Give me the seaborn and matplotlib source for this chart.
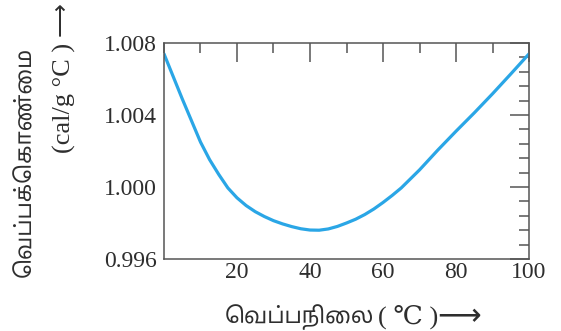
import pandas as pd
import matplotlib.pyplot as plt
import seaborn as sns
from matplotlib.ticker import MultipleLocator

# values
temperature = [0, 2.5, 5, 7.5, 10, 12.5, 15, 17.5, 20, 22.5, 25, 27.5, 30,
               32.5, 35, 37.5, 40, 42.5, 45, 47.5, 50, 52.5, 55, 57.5, 60,
               62.5, 65, 70, 75, 80, 85, 90, 95, 100]
specific_heat = [1.0074, 1.00615, 1.0049, 1.0037, 1.0025, 1.00152, 1.0007, 0.99995,
                 0.9994, 0.99897, 0.99863, 0.99836, 0.99813, 0.99795, 0.99780,
                 0.99768, 0.99761, 0.99760, 0.99767, 0.99781, 0.99800, 0.99821,
                 0.99847, 0.99878, 0.99914, 0.99953, 0.99995, 1.00095, 1.00205,
                 1.00310, 1.00412, 1.00518, 1.00628, 1.00740]
x_ticks = [20, 40, 60, 80, 100]
y_ticks = [0.996, 1.000, 1.004, 1.008]
xlabel_ta = 'வெப்பநிலை'
ylabel_ta = 'வெப்பக்கொண்மை'
ylabel_unit = '(cal/g \u00b0C )'
xlabel_unit = '( \u2103 )'

df = pd.DataFrame({'temp': temperature, 'c': specific_heat})


def visual_order(s):
    # matplotlib has no text shaping: put Tamil pre-base vowel signs
    # in front of their consonant so the word reads right
    s = s.replace('\u0BCA', '\u0BC6\u0BBE').replace('\u0BCB', '\u0BC7\u0BBE')
    s = s.replace('\u0BCC', '\u0BC6\u0BD7')
    out = list(s)
    for i in range(1, len(out)):
        if out[i] in '\u0BC6\u0BC7\u0BC8':
            out[i - 1], out[i] = out[i], out[i - 1]
    return ''.join(out)


sns.set_style("white")
plt.rcParams['font.family'] = ['Liberation Serif', 'DejaVu Serif']
tfam = ['Noto Sans Tamil', 'DejaVu Sans']
txt = '#2e2e2e'

fig = plt.figure(figsize=(5.61, 3.31), dpi=100)
ax = fig.add_axes([0.2923, 0.2175, 0.6507, 0.6525])

sns.lineplot(data=df, x='temp', y='c', color='#2aa6e6', linewidth=2.3, ax=ax)

ax.set_xlim(0, 100)
ax.set_ylim(0.996, 1.008)
ax.set_xticks(x_ticks)
ax.set_yticks(y_ticks)
ax.set_yticklabels(['%.3f' % v for v in y_ticks])
ax.xaxis.set_minor_locator(MultipleLocator(10))
ax.yaxis.set_minor_locator(MultipleLocator(0.0008))
ax.tick_params(which='both', direction='in', top=True, right=True,
               color='#555555', width=1.1, labelsize=17, labelcolor=txt)
ax.tick_params(which='major', length=14)
ax.tick_params(which='minor', length=7.5)
ax.tick_params(axis='x', pad=2)
ax.tick_params(axis='y', pad=5)
for s in ax.spines.values():
    s.set_color('#555555')
    s.set_linewidth(1.1)
ax.set_xlabel('')
ax.set_ylabel('')

# axis titles
fig.text(0.401, 0.042, visual_order(xlabel_ta), family=tfam, fontsize=16,
         color=txt, ha='left', va='center')
fig.text(0.673, 0.042, xlabel_unit, fontsize=19, color=txt,
         ha='left', va='center')
fig.text(0.779, 0.045, '\u27f6', family=['DejaVu Sans'], fontsize=22,
         color=txt, ha='left', va='center')
fig.text(0.046, 0.51, visual_order(ylabel_ta), family=tfam, fontsize=16,
         color=txt, rotation=90, ha='center', va='center')
fig.text(0.114, 0.705, ylabel_unit, fontsize=19, color=txt,
         rotation=90, ha='center', va='center')
fig.text(0.108, 0.943, '\u27f6', family=['DejaVu Sans'], fontsize=17,
         color=txt, rotation=90, ha='center', va='center')

fig.savefig('out.png', dpi=100)
